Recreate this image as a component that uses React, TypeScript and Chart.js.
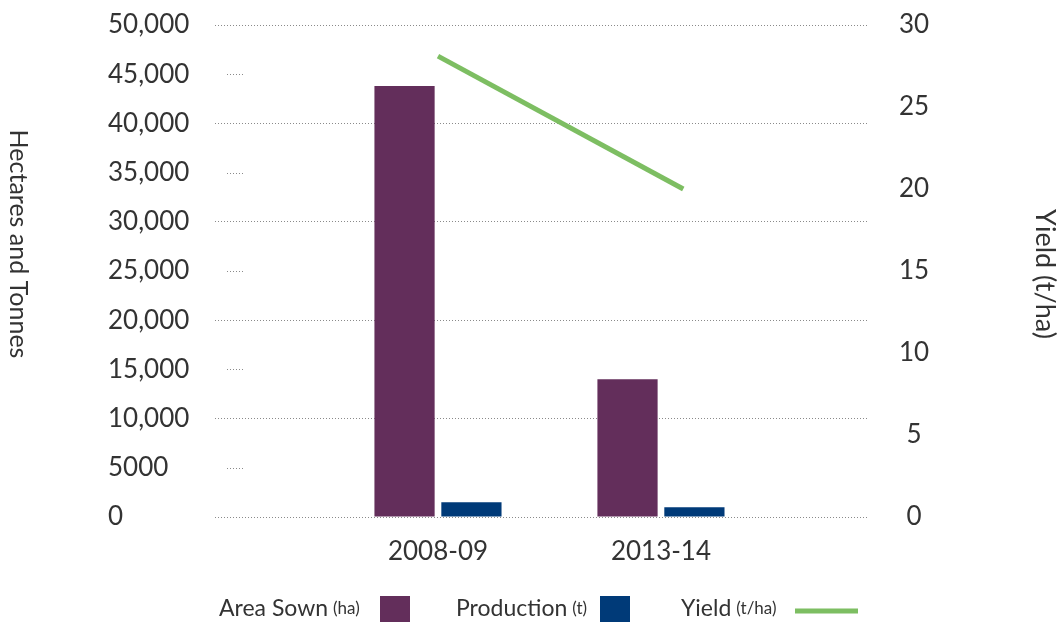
import React, { useEffect, useRef } from 'react';
import { Chart, registerables } from 'chart.js';

Chart.register(...registerables);

// ---- data ----
const categories = ['2008-09', '2013-14'];
const areaSown = [43800, 14000];
const production = [1500, 1000];
const yieldValues = [28.1, 20.0];
const yieldAt = [1, 2.1]; // where the yield line sits along the category axis
const leftTicks = [0, 5000, 10000, 15000, 20000, 25000, 30000, 35000, 40000, 45000, 50000];
const rightTicks = [0, 5, 10, 15, 20, 25, 30];

// ---- style ----
const FONT = 'Lato, "Open Sans", sans-serif';
const TEXT = '#333333';
const GRID = '#8a8a8a';
const PURPLE = '#632E5B';
const BLUE = '#003A78';
const GREEN = '#7DBE62';

const fmtLeft = (v: number) => (v >= 10000 ? v.toLocaleString('en-US') : String(v));

const decorPlugin = {
  id: 'decor',
  beforeDatasetsDraw(chart: any) {
    const { ctx, chartArea, scales } = chart;
    ctx.save();
    ctx.strokeStyle = GRID;
    ctx.lineWidth = 1;
    ctx.setLineDash([1, 2]);
    leftTicks.forEach((v) => {
      if (v % 10000 !== 0) {
        const y = Math.round(scales.y.getPixelForValue(v)) + 0.5;
        ctx.beginPath();
        ctx.moveTo(chartArea.left + 12, y);
        ctx.lineTo(chartArea.left + 30, y);
        ctx.stroke();
      }
    });
    ctx.restore();
  },
  afterDraw(chart: any) {
    const { ctx, chartArea } = chart;
    ctx.save();
    ctx.fillStyle = TEXT;
    ctx.textAlign = 'center';
    ctx.textBaseline = 'middle';
    // left title
    ctx.save();
    ctx.translate(18, 244);
    ctx.rotate(Math.PI / 2);
    ctx.font = `25px ${FONT}`;
    ctx.fillText('Hectares and Tonnes', 0, 0);
    ctx.restore();
    // right title
    ctx.save();
    ctx.translate(1045, (chartArea.top + chartArea.bottom) / 2 + 3);
    ctx.rotate(Math.PI / 2);
    ctx.font = `27px ${FONT}`;
    ctx.fillText('Yield (t/ha)', 0, 0);
    ctx.restore();

    // legend
    const base = 616;
    ctx.textAlign = 'left';
    ctx.textBaseline = 'alphabetic';
    const items = [
      { main: 'Area Sown', unit: '(ha)', x: 219 },
      { main: 'Production', unit: '(t)', x: 456 },
      { main: 'Yield', unit: '(t/ha)', x: 681 },
    ];
    items.forEach((it) => {
      ctx.font = `23px ${FONT}`;
      ctx.fillText(it.main, it.x, base);
      const w = ctx.measureText(it.main).width;
      ctx.font = `17px ${FONT}`;
      ctx.fillText(it.unit, it.x + w + 5, base - 2);
    });
    ctx.fillStyle = PURPLE;
    ctx.fillRect(380, 596, 30, 30);
    ctx.fillStyle = BLUE;
    ctx.fillRect(600, 596, 30, 30);
    ctx.strokeStyle = GREEN;
    ctx.lineWidth = 5;
    ctx.beginPath();
    ctx.moveTo(795, 611);
    ctx.lineTo(858, 611);
    ctx.stroke();
    ctx.restore();
  },
};

export default function App() {
  const ref = useRef<HTMLCanvasElement | null>(null);

  useEffect(() => {
    document.body.style.margin = '0';
    if (!ref.current) return;
    const tickFont = { family: FONT, size: 26 };
    const chart = new Chart(ref.current, {
      type: 'bar',
      data: {
        datasets: [
          {
            type: 'line',
            label: 'Yield',
            data: yieldValues.map((v, i) => ({ x: yieldAt[i], y: v })),
            borderColor: GREEN,
            borderWidth: 5,
            pointRadius: 0,
            yAxisID: 'y1',
            order: 0,
          } as any,
          {
            type: 'bar',
            label: 'Area Sown',
            data: areaSown.map((v, i) => ({ x: i + 1, y: v })),
            backgroundColor: PURPLE,
            yAxisID: 'y',
            categoryPercentage: 0.6,
            barPercentage: 0.9,
            order: 1,
          },
          {
            type: 'bar',
            label: 'Production',
            data: production.map((v, i) => ({ x: i + 1, y: v })),
            backgroundColor: BLUE,
            yAxisID: 'y',
            categoryPercentage: 0.6,
            barPercentage: 0.9,
            order: 2,
          },
        ],
      },
      options: {
        animation: false,
        responsive: false,
        maintainAspectRatio: false,
        layout: { padding: { left: 108, top: 25, right: 0, bottom: 45 } },
        plugins: { legend: { display: false }, tooltip: { enabled: false } },
        scales: {
          x: {
            type: 'linear',
            min: 0,
            max: 2.924,
            offset: false,
            afterBuildTicks: (s: any) => {
              s.ticks = categories.map((_, i) => ({ value: i + 1 }));
            },
            grid: { display: false, drawTicks: false },
            border: { display: false },
            ticks: {
              autoSkip: false,
              maxRotation: 0,
              padding: 19,
              font: tickFont,
              color: TEXT,
              callback: (v: any) => {
                const n = Number(v);
                return Number.isInteger(n) && categories[n - 1] ? categories[n - 1] : '';
              },
            },
            afterFit: (s: any) => {
              s.height = 60;
            },
          },
          y: {
            position: 'left',
            min: 0,
            max: 50000,
            afterBuildTicks: (s: any) => {
              s.ticks = leftTicks.map((v) => ({ value: v }));
            },
            grid: {
              color: (c: any) => (c.tick && c.tick.value % 10000 === 0 ? GRID : 'rgba(0,0,0,0)'),
              drawTicks: false,
              lineWidth: 1,
            },
            border: { display: false, dash: [1, 2] },
            ticks: {
              crossAlign: 'far',
              padding: 0,
              font: tickFont,
              color: TEXT,
              callback: (v: any) => fmtLeft(Number(v)),
            },
            afterFit: (s: any) => {
              s.width = 107;
            },
          },
          y1: {
            position: 'right',
            min: 0,
            max: 30,
            afterBuildTicks: (s: any) => {
              s.ticks = rightTicks.map((v) => ({ value: v }));
            },
            grid: { display: false, drawTicks: true, tickLength: 32 },
            border: { display: false },
            ticks: {
              crossAlign: 'center',
              padding: 0,
              font: tickFont,
              color: TEXT,
            },
            afterFit: (s: any) => {
              s.width = 193;
            },
          },
        },
      } as any,
      plugins: [decorPlugin],
    });
    return () => chart.destroy();
  }, []);

  return (
    <div style={{ width: 1060, height: 622 }}>
      <canvas ref={ref} width={1060} height={622} style={{ display: 'block' }} />
    </div>
  );
}
